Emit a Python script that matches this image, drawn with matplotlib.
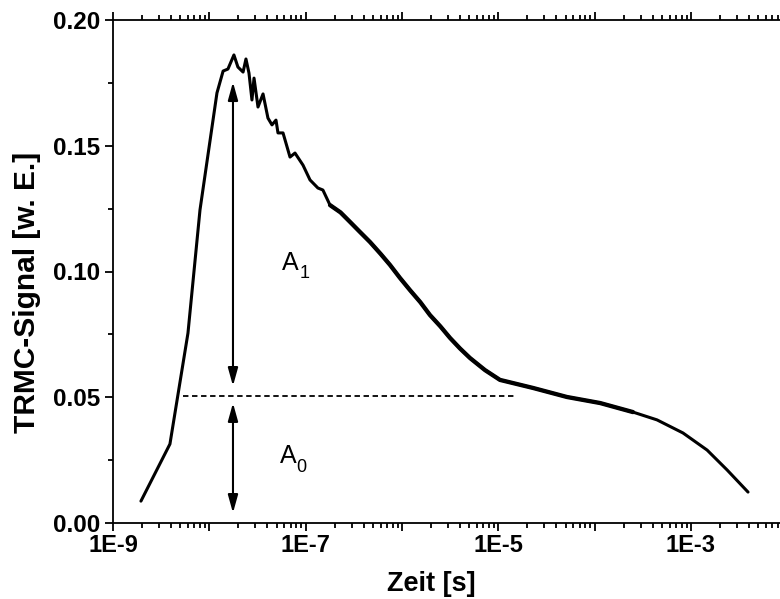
import matplotlib
matplotlib.use("Agg")
import matplotlib.pyplot as plt
from matplotlib.ticker import LogLocator, FixedLocator, NullFormatter, MultipleLocator
import numpy as np

# data
time_s = [1.95e-9, 3.9e-9, 6.0e-9, 8.0e-9, 1.2e-8, 1.39e-8, 1.56e-8, 1.80e-8, 1.98e-8,
          2.24e-8, 2.40e-8, 2.58e-8, 2.77e-8, 2.91e-8, 3.20e-8, 3.61e-8, 4.06e-8,
          4.47e-8, 4.92e-8, 5.16e-8, 5.82e-8, 6.88e-8, 7.75e-8, 9.38e-8, 1.11e-7,
          1.34e-7, 1.51e-7, 1.79e-7, 2.3e-7, 2.89e-7, 3.6e-7, 4.66e-7, 6.0e-7, 7.51e-7,
          9.5e-7, 1.21e-6, 1.55e-6, 1.95e-6, 2.5e-6, 3.15e-6, 4.0e-6, 5.08e-6, 7.27e-6,
          1.04e-5, 2.29e-5, 5.16e-5, 1.14e-4, 2.50e-4, 4.44e-4, 8.26e-4, 1.47e-3,
          2.37e-3, 3.91e-3]
signal = [0.0087, 0.0314, 0.0755, 0.1245, 0.171, 0.1797, 0.1805, 0.1861, 0.1813,
          0.1793, 0.1845, 0.1789, 0.1682, 0.1769, 0.1654, 0.1706, 0.1610,
          0.1583, 0.1602, 0.1551, 0.1551, 0.1455, 0.1471, 0.1423, 0.1364,
          0.1332, 0.1324, 0.1264, 0.1235, 0.1197, 0.1160, 0.1117, 0.1070, 0.1026,
          0.0975, 0.0926, 0.0878, 0.0827, 0.0782, 0.0736, 0.0694, 0.0656, 0.0608,
          0.0569, 0.0537, 0.0501, 0.0477, 0.0441, 0.0410, 0.0358, 0.0290,
          0.0211, 0.0123]
noisy_range = (1.6e-7, 2.6e-4)   # part of the trace drawn as a thicker noisy band

a0_level = 0.0505
a0_line_range = (5.3e-9, 1.49e-5)
arrow_time = 1.76e-8
arrow_a1 = (0.1753, 0.0545)
arrow_a0 = (0.0477, 0.004)

x_ticks = [1e-9, 1e-8, 1e-7, 1e-6, 1e-5, 1e-4, 1e-3, 1e-2]
x_labels = ["1E-9", "", "1E-7", "", "1E-5", "", "1E-3", ""]
y_ticks = [0.00, 0.05, 0.10, 0.15, 0.20]
y_labels = ["0.00", "0.05", "0.10", "0.15", "0.20"]

plt.rcParams['font.family'] = ['Liberation Sans', 'DejaVu Sans']

fig = plt.figure(figsize=(7.80, 5.99), dpi=100)
W, H = 780, 599
left, right, top, bottom = 113, 113 + 7 * 96.33, 20, 523
ax = fig.add_axes([left / W, 1 - bottom / H, (right - left) / W, (bottom - top) / H])

t = np.array(time_s)
s = np.array(signal)
ax.plot(t, s, color='black', lw=2.2, solid_joinstyle='round', solid_capstyle='round')
m = (t >= noisy_range[0]) & (t <= noisy_range[1])
ax.plot(t[m], s[m], color='black', lw=3.1, solid_joinstyle='round', solid_capstyle='round')
ax.hlines(a0_level, *a0_line_range, colors='black', linestyles=(0, (3, 2)), lw=1.3)

arrowprops = dict(arrowstyle='<|-|>,head_length=0.9,head_width=0.25',
                  mutation_scale=12, color='black', lw=1.5, shrinkA=0, shrinkB=0)
ax.annotate('', xy=(arrow_time, arrow_a1[0]), xytext=(arrow_time, arrow_a1[1]),
            arrowprops=arrowprops)
ax.annotate('', xy=(arrow_time, arrow_a0[0]), xytext=(arrow_time, arrow_a0[1]),
            arrowprops=arrowprops)

ax.text(5.68e-8, 0.1006, 'A', fontsize=18, ha='left', va='baseline')
ax.text(8.73e-8, 0.0974, '1', fontsize=13, ha='left', va='baseline')
ax.text(5.42e-8, 0.0239, 'A', fontsize=18, ha='left', va='baseline')
ax.text(7.94e-8, 0.0203, '0', fontsize=13, ha='left', va='baseline')

ax.set_xscale('log')
ax.set_xlim(1e-9, 1e-2)
ax.set_ylim(0, 0.20)

ax.xaxis.set_major_locator(FixedLocator(x_ticks))
ax.set_xticklabels(x_labels)
ax.xaxis.set_minor_locator(LogLocator(base=10, subs=np.arange(2, 10), numticks=100))
ax.xaxis.set_minor_formatter(NullFormatter())
ax.yaxis.set_major_locator(FixedLocator(y_ticks))
ax.set_yticklabels(y_labels)
ax.yaxis.set_minor_locator(MultipleLocator(0.025))

for sp in ax.spines.values():
    sp.set_linewidth(1.3)
ax.spines['right'].set_visible(False)

ax.tick_params(which='both', direction='out', top=True, right=False, width=1.3)
ax.tick_params(which='major', length=6, pad=3)
ax.tick_params(which='minor', length=3.5)
ax.tick_params(axis='x', which='major', labelsize=17, labeltop=False, pad=2)
ax.tick_params(axis='y', which='major', labelsize=17.5)
for lbl in ax.get_xticklabels() + ax.get_yticklabels():
    lbl.set_fontweight('bold')

ax.set_xlabel('Zeit [s]', fontsize=19.5, fontweight='bold')
ax.set_ylabel('TRMC-Signal [w. E.]', fontsize=21.5, fontweight='bold')
ax.xaxis.set_label_coords(0.472, -0.0954)
ax.yaxis.set_label_coords(-0.107, 0.459)

fig.savefig('out.png', dpi=100)
